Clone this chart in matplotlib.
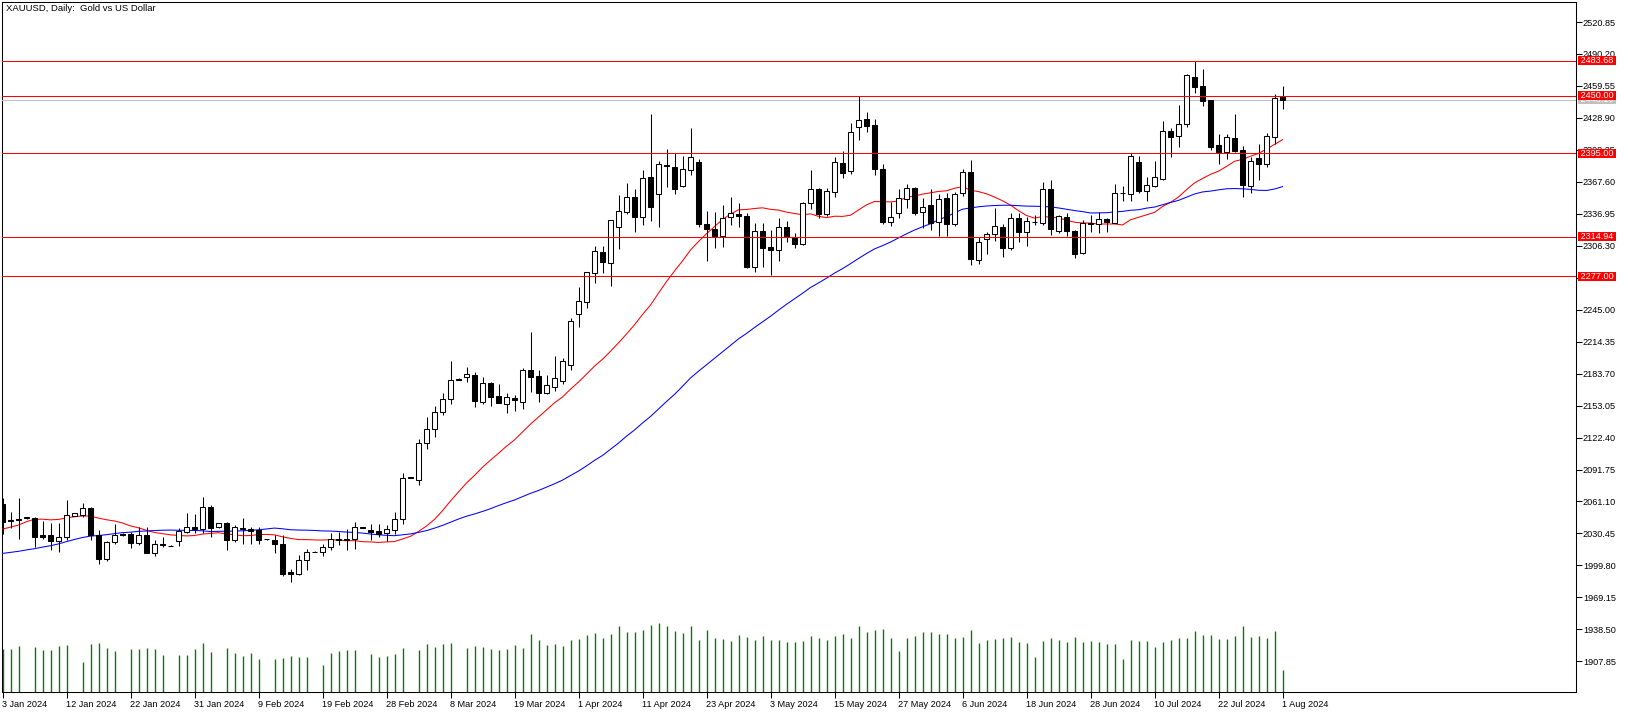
import numpy as np
import pandas as pd
import matplotlib
matplotlib.use("Agg")
import matplotlib.pyplot as plt

plt.rcParams['font.family'] = ['Liberation Sans', 'DejaVu Sans']

# daily XAUUSD bars, bar 0 = 3 Jan 2024, last bar = 1 Aug 2024
opens = [2058.7, 2043.0, 2043.9, 2044.8, 2044.9, 2028.6, 2029.0, 2023.5, 2027.4, 2047.2,
         2047.8, 2054.5, 2029.0, 2006.3, 2022.6, 2030.3, 2029.9, 2021.0, 2029.0, 2012.0,
         2020.1, 2018.5, 2022.9, 2032.2, 2036.3, 2035.0, 2055.5, 2036.3, 2040.1, 2024.5,
         2036.0, 2035.0, 2033.7, 2025.0, 2024.2, 2020.3, 1993.5, 1991.2, 2005.0, 2013.0,
         2013.0, 2017.8, 2024.5, 2025.5, 2025.1, 2036.3, 2033.8, 2032.5, 2030.6, 2033.8,
         2044.0, 2084.0, 2081.7, 2117.1, 2130.3, 2146.6, 2159.0, 2178.0, 2180.1, 2182.0,
         2156.2, 2174.4, 2162.2, 2154.3, 2160.3, 2156.8, 2187.2, 2181.4, 2165.4, 2171.2,
         2177.0, 2191.6, 2240.5, 2252.0, 2279.9, 2300.0, 2289.5, 2324.0, 2339.0, 2353.1,
         2334.2, 2371.9, 2355.6, 2383.1, 2381.5, 2364.0, 2379.0, 2386.6, 2327.2, 2322.0,
         2316.0, 2333.6, 2336.4, 2334.8, 2285.6, 2320.5, 2305.4, 2302.2, 2324.6, 2315.0,
         2308.0, 2347.0, 2360.7, 2336.8, 2357.6, 2386.0, 2377.7, 2419.9, 2427.8, 2422.1,
         2379.9, 2329.4, 2337.4, 2350.8, 2361.4, 2338.3, 2345.0, 2328.8, 2351.8, 2326.8,
         2356.6, 2376.7, 2292.6, 2312.5, 2317.3, 2324.0, 2303.8, 2332.6, 2319.2, 2329.4,
         2328.4, 2360.4, 2320.8, 2334.2, 2320.5, 2299.0, 2328.4, 2327.2, 2331.6, 2328.4,
         2357.2, 2355.6, 2386.9, 2359.1, 2363.6, 2370.6, 2416.3, 2411.9, 2422.7, 2467.8,
         2459.5, 2446.1, 2402.9, 2396.5, 2409.3, 2398.1, 2363.9, 2390.1, 2384.7, 2410.3,
         2448.6]
highs = [2064.5, 2050.7, 2064.1, 2046.4, 2046.5, 2042.4, 2040.1, 2040.1, 2062.5, 2050.0,
         2059.3, 2055.5, 2033.8, 2023.2, 2039.2, 2030.6, 2031.8, 2036.9, 2036.9, 2024.2,
         2027.4, 2019.0, 2035.4, 2049.7, 2049.1, 2065.7, 2058.0, 2040.5, 2041.7, 2038.5,
         2044.9, 2037.0, 2037.0, 2025.3, 2028.6, 2029.0, 1996.0, 2009.8, 2015.5, 2013.3,
         2020.3, 2031.2, 2032.0, 2034.5, 2041.0, 2036.6, 2039.5, 2039.2, 2038.5, 2050.7,
         2088.7, 2084.6, 2120.7, 2142.4, 2152.7, 2164.8, 2196.1, 2179.5, 2189.7, 2185.2,
         2180.1, 2176.0, 2173.4, 2164.8, 2163.2, 2189.1, 2223.9, 2187.2, 2182.7, 2200.6,
         2198.7, 2236.7, 2267.1, 2281.4, 2306.4, 2306.4, 2331.0, 2355.0, 2366.2, 2360.7,
         2378.9, 2432.6, 2387.9, 2398.8, 2395.6, 2392.7, 2418.9, 2389.5, 2339.6, 2339.0,
         2345.4, 2352.7, 2347.0, 2338.0, 2327.8, 2327.8, 2321.4, 2333.2, 2330.0, 2318.2,
         2348.6, 2378.9, 2361.4, 2361.4, 2391.1, 2397.5, 2423.7, 2450.2, 2434.2, 2427.5,
         2384.7, 2348.6, 2360.4, 2365.5, 2362.3, 2351.8, 2360.7, 2355.6, 2356.6, 2358.2,
         2379.9, 2388.5, 2315.0, 2319.8, 2342.8, 2327.2, 2337.4, 2337.4, 2334.2, 2335.8,
         2367.8, 2369.4, 2335.8, 2337.4, 2321.4, 2331.0, 2335.8, 2339.0, 2333.2, 2365.5,
         2363.6, 2394.9, 2392.4, 2371.9, 2387.9, 2425.9, 2419.0, 2441.3, 2470.7, 2483.7,
         2475.5, 2446.5, 2413.1, 2413.1, 2432.6, 2402.0, 2391.7, 2403.9, 2414.1, 2451.8,
         2459.5]
lows = [2030.0, 2035.4, 2024.8, 2044.5, 2017.8, 2025.1, 2014.6, 2013.0, 2024.2, 2047.0,
        2046.0, 2024.2, 2001.2, 2004.4, 2020.3, 2028.0, 2016.8, 2019.4, 2011.4, 2008.8,
        2017.1, 2018.2, 2018.4, 2030.6, 2031.2, 2031.2, 2027.4, 2036.0, 2014.6, 2022.6,
        2020.0, 2020.3, 2020.3, 2024.6, 2012.0, 1989.6, 1984.2, 1990.6, 1995.4, 2012.5,
        2009.1, 2014.6, 2019.0, 2015.0, 2015.9, 2035.9, 2024.2, 2027.4, 2023.2, 2029.9,
        2039.2, 2083.8, 2076.5, 2111.1, 2123.2, 2144.0, 2154.3, 2177.5, 2175.3, 2151.4,
        2155.0, 2153.0, 2155.2, 2146.3, 2147.9, 2150.1, 2166.1, 2156.8, 2163.8, 2167.3,
        2173.4, 2187.2, 2228.7, 2246.9, 2270.3, 2280.5, 2268.0, 2303.5, 2336.8, 2319.8,
        2326.2, 2330.0, 2324.6, 2363.0, 2355.6, 2363.0, 2373.8, 2324.6, 2292.0, 2303.8,
        2305.4, 2326.2, 2324.0, 2284.7, 2281.5, 2285.6, 2277.9, 2292.0, 2310.2, 2303.8,
        2307.0, 2341.6, 2332.6, 2334.8, 2352.7, 2371.6, 2374.8, 2407.7, 2415.7, 2374.2,
        2327.2, 2325.3, 2332.6, 2342.2, 2335.8, 2323.0, 2321.4, 2316.0, 2316.0, 2325.0,
        2354.0, 2287.9, 2288.8, 2298.1, 2310.9, 2295.8, 2302.2, 2310.2, 2306.4, 2326.2,
        2326.2, 2316.6, 2318.2, 2316.0, 2294.2, 2298.4, 2319.8, 2318.9, 2319.8, 2327.8,
        2349.5, 2349.5, 2356.6, 2349.5, 2362.3, 2369.4, 2391.7, 2401.3, 2420.5, 2452.5,
        2440.0, 2398.0, 2384.4, 2389.2, 2396.5, 2353.4, 2356.6, 2369.4, 2381.5, 2403.9,
        2437.4]
closes = [2041.1, 2042.2, 2043.0, 2046.0, 2027.4, 2027.4, 2023.5, 2027.4, 2048.1, 2049.7,
          2054.5, 2029.0, 2006.3, 2021.9, 2029.0, 2028.6, 2021.0, 2029.0, 2012.0, 2020.0,
          2019.0, 2018.7, 2032.5, 2036.3, 2035.0, 2055.5, 2036.0, 2040.1, 2024.5, 2036.3,
          2034.4, 2033.0, 2024.5, 2024.8, 2020.3, 1991.5, 1991.2, 2005.0, 2012.4, 2012.8,
          2017.8, 2025.1, 2024.8, 2024.2, 2036.3, 2036.0, 2031.5, 2030.0, 2034.4, 2044.0,
          2083.3, 2084.2, 2117.1, 2130.3, 2146.6, 2159.0, 2177.6, 2178.8, 2183.0, 2157.8,
          2174.4, 2161.6, 2155.9, 2161.0, 2158.1, 2187.2, 2180.8, 2165.4, 2172.5, 2179.2,
          2195.8, 2234.2, 2253.0, 2280.8, 2301.3, 2291.1, 2331.0, 2339.6, 2353.4, 2334.2,
          2370.9, 2343.8, 2384.4, 2383.3, 2360.4, 2379.6, 2391.7, 2327.2, 2322.0, 2316.0,
          2332.6, 2338.0, 2334.8, 2286.3, 2320.5, 2303.8, 2302.2, 2324.6, 2314.4, 2308.0,
          2347.0, 2360.7, 2336.8, 2358.8, 2386.9, 2376.4, 2415.1, 2426.6, 2421.5, 2379.6,
          2329.4, 2333.6, 2351.8, 2361.4, 2338.0, 2343.1, 2327.8, 2351.1, 2326.8, 2355.9,
          2376.7, 2293.3, 2310.2, 2317.3, 2325.2, 2303.8, 2332.6, 2319.2, 2329.7, 2329.1,
          2360.4, 2322.0, 2334.8, 2320.5, 2298.1, 2327.8, 2326.8, 2331.6, 2328.8, 2356.6,
          2356.9, 2392.4, 2359.1, 2364.2, 2371.9, 2416.3, 2410.9, 2423.0, 2470.0, 2458.8,
          2445.4, 2401.3, 2396.5, 2410.3, 2397.5, 2364.6, 2387.6, 2384.7, 2411.5, 2447.7,
          2446.1]
volumes = [130000, 130000, 139000, 1000, 136000, 127000, 127000, 139000, 142000, 1000,
           91000, 145000, 148000, 133000, 124000, 1000, 130000, 130000, 133000, 130000,
           112000, 1000, 112000, 112000, 130000, 148000, 121000, 1000, 133000, 118000,
           109000, 118000, 100000, 1000, 100000, 103000, 109000, 106000, 106000, 1000,
           82000, 118000, 124000, 127000, 127000, 1000, 115000, 106000, 109000, 115000,
           133000, 1000, 127000, 145000, 136000, 145000, 148000, 1000, 133000, 139000,
           136000, 130000, 127000, 130000, 142000, 133000, 175000, 157000, 142000, 145000,
           139000, 157000, 160000, 172000, 178000, 163000, 175000, 199000, 181000, 181000,
           187000, 202000, 208000, 199000, 184000, 178000, 199000, 157000, 187000, 163000,
           160000, 154000, 172000, 166000, 157000, 169000, 157000, 157000, 151000, 151000,
           154000, 169000, 163000, 157000, 169000, 175000, 163000, 199000, 181000, 187000,
           190000, 163000, 124000, 163000, 169000, 181000, 181000, 175000, 175000, 163000,
           166000, 187000, 148000, 157000, 160000, 163000, 166000, 151000, 148000, 106000,
           154000, 163000, 157000, 151000, 166000, 151000, 154000, 151000, 145000, 145000,
           100000, 157000, 154000, 154000, 136000, 151000, 157000, 163000, 163000, 184000,
           172000, 172000, 160000, 160000, 169000, 199000, 166000, 169000, 163000, 184000,
           67000]
# closes of the bars before 3 Jan (off the chart), only needed to start the moving averages
warmup_closes = [1992, 1992, 1978, 1970, 1950, 1958, 1940, 1938, 1946, 1963,
                 1959, 1981, 1980, 1981, 1978, 1999, 1990, 1992, 2002, 2002,
                 2014, 2041, 2044, 2036, 2072, 2073, 2029, 2019, 2025, 2028,
                 2004, 2004, 1981, 1980, 2027, 2036, 2019, 2019, 2027, 2040,
                 2031, 2046, 2053, 2053, 2067, 2077, 2065, 2062, 2060]
levels = [2483.68, 2450.00, 2395.00, 2314.94, 2277.00]
price_ticks = [1907.85, 1938.50, 1969.15, 1999.80, 2030.45, 2061.10, 2091.75, 2122.40,
               2153.05, 2183.70, 2214.35, 2245.00, 2275.65, 2306.30, 2336.95, 2367.60,
               2398.25, 2428.90, 2459.55, 2490.20, 2520.85]

# broker calendar: weekdays, Sunday bars until the DST switch, no Good Friday
days = pd.bdate_range("2024-01-03", "2024-08-01")
days = days.union(pd.date_range("2024-01-07", "2024-03-10", freq="W-SUN"))
days = days.drop(pd.Timestamp("2024-03-29"))

o = np.array(opens)
h = np.array(highs)
l = np.array(lows)
c = np.array(closes)
n = len(c)
x = np.arange(n)

allc = pd.Series(warmup_closes + closes, dtype=float)
ma20 = allc.rolling(20).mean().to_numpy()[-n:]
ma50 = allc.rolling(50).mean().to_numpy()[-n:]

W, H = 1628, 714
fig = plt.figure(figsize=(W / 100, H / 100), dpi=100)
rect = [2 / W, 22 / H, 1574 / W, 690 / H]

# volumes in their own axes behind the price axes
axv = fig.add_axes(rect)
axv.vlines(x, 0, volumes, color='#008000', lw=1.0)
axv.set_xlim(-0.0625, -0.0625 + 1574 / 8)
axv.set_ylim(0, 2070000)
axv.axis('off')

ax = fig.add_axes(rect)
ax.set_facecolor('none')
ax.set_xlim(-0.0625, -0.0625 + 1574 / 8)
ax.set_ylim(1878.41, 2540.03)

ax.plot(x, ma20, color='#ff0000', lw=0.75, zorder=4)
ax.plot(x, ma50, color='#0000ff', lw=0.75, zorder=4)

up = c >= o
ax.vlines(x, l, h, color='black', lw=0.75, zorder=5)
ax.bar(x, np.abs(c - o), bottom=np.minimum(o, c), width=0.6,
       color=np.where(up, 'white', 'black'), edgecolor='black', lw=0.75, zorder=6)

bid = closes[-1]
ax.axhline(bid, color='#c0c0c0', lw=0.75, zorder=3)
for lv in levels:
    ax.axhline(lv, color='#ff0000', lw=0.75, zorder=7)

lab_font = 6.6
ax.annotate(f" {bid:.2f} ", xy=(1, bid), xycoords=('axes fraction', 'data'),
            xytext=(2, 0), textcoords='offset pixels', va='center', ha='left',
            color='white', fontsize=lab_font, annotation_clip=False, zorder=8,
            bbox=dict(boxstyle='square,pad=0', fc='#c0c0c0', ec='none'))
for lv in levels:
    ax.annotate(f" {lv:.2f} ", xy=(1, lv), xycoords=('axes fraction', 'data'),
                xytext=(2, 0), textcoords='offset pixels', va='center', ha='left',
                color='white', fontsize=lab_font, annotation_clip=False, zorder=9,
                bbox=dict(boxstyle='square,pad=0', fc='#ff0000', ec='none'))

ax.yaxis.tick_right()
ax.set_yticks(price_ticks)
ax.set_yticklabels([f"{v:.2f}" for v in price_ticks])
ax.tick_params(axis='y', direction='out', length=4, width=0.75, pad=1, labelsize=lab_font)

tick_idx = x[::8]
ax.set_xticks(tick_idx)
ax.set_xticklabels([f"{days[i].day} {days[i]:%b %Y}" for i in tick_idx])
for t in ax.get_xticklabels():
    t.set_ha('left')
ax.tick_params(axis='x', direction='out', length=4, width=0.75, pad=2, labelsize=lab_font)

for s in ax.spines.values():
    s.set_linewidth(0.75)

fig.text(6 / W, 1 - 4 / H, "XAUUSD, Daily:  Gold vs US Dollar", ha='left', va='top',
         fontsize=6.8)

fig.savefig("out.png", dpi=100, facecolor='white')
